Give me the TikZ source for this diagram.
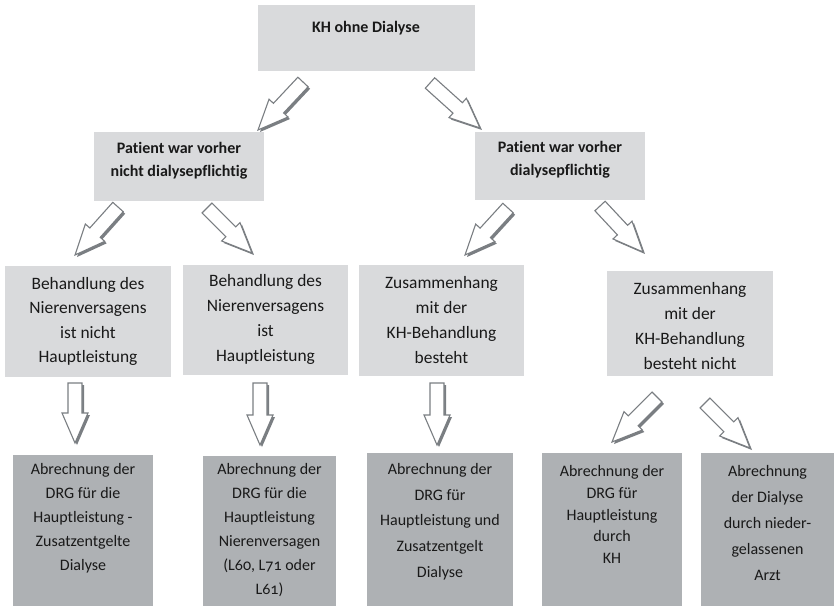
\documentclass[tikz,border=0pt]{standalone}
\usepackage{fontspec}
\setmainfont[Ligatures=NoCommon]{Carlito}
\newfontfamily\oldnum[Numbers=OldStyle,Ligatures=NoCommon]{Carlito}
\definecolor{lightbox}{RGB}{217,218,220}
\definecolor{darkbox}{RGB}{174,177,180}
\definecolor{arrowgray}{RGB}{122,126,130}
\definecolor{txt}{RGB}{25,25,25}
\tikzset{
  lbox/.style={fill=lightbox, draw=none, inner sep=0pt, anchor=north west},
  dbox/.style={fill=darkbox, draw=none, inner sep=0pt, anchor=north west},
  boldtxt/.style={align=center, text=txt, inner sep=0pt, font=\fontsize{16}{23}\selectfont\bfseries},
  midtxt/.style={align=center, text=txt, inner sep=0pt, font=\fontsize{17.4}{#1}\selectfont},
  lowtxt/.style={align=center, text=txt, inner sep=0pt, font=\fontsize{16}{#1}\selectfont\oldnum},
}
\newcommand\blockarrow[2]{%
  \path (#1); \pgfgetlastxy{\baAx}{\baAy}%
  \path (#2); \pgfgetlastxy{\baBx}{\baBy}%
  \pgfmathsetmacro\baAng{atan2((\baBy)-(\baAy),(\baBx)-(\baAx))}%
  \pgfmathsetmacro\baLen{veclen((\baBx)-(\baAx),(\baBy)-(\baAy))}%
  \pgfmathsetmacro\baNeck{\baLen-30}%
  \begin{scope}[xshift=2pt,yshift=-2pt,shift={(\baAx,\baAy)},rotate=\baAng]
    \fill[arrowgray] (0,-7) -- (\baNeck,-7) -- (\baNeck,-13) -- (\baLen,0) -- (\baNeck,13) -- (\baNeck,7) -- (0,7) -- cycle;
  \end{scope}
  \begin{scope}[shift={(\baAx,\baAy)},rotate=\baAng]
    \draw[arrowgray, fill=white, line width=1.1pt, line join=miter] (0,-7) -- (\baNeck,-7) -- (\baNeck,-13) -- (\baLen,0) -- (\baNeck,13) -- (\baNeck,7) -- (0,7) -- cycle;
  \end{scope}}
\begin{document}
\begin{tikzpicture}[x=1pt,y=-1pt]
\useasboundingbox (0,0) rectangle (834,606);
% level 1
\node[lbox, minimum width=217, minimum height=66] (T) at (258,5) {};
\node[boldtxt] (Tt) at (366,28) {KH ohne Dialyse};
% level 2
\node[lbox, minimum width=170, minimum height=69] (P1) at (94,132) {};
\node[boldtxt] (P1t) at (179,160.5) {Patient war vorher\\nicht dialysepflichtig};
\node[lbox, minimum width=170, minimum height=68] (P2) at (475,132) {};
\node[boldtxt] (P2t) at (560,160) {Patient war vorher\\dialysepflichtig};
% level 3
\node[lbox, minimum width=166, minimum height=111] (A) at (5,266) {};
\node[midtxt=24.3] (At) at (88,321.5) {Behandlung des\\Nierenversagens\\ist nicht\\Hauptleistung};
\node[lbox, minimum width=165, minimum height=110] (B) at (183,265) {};
\node[midtxt=25] (Bt) at (265.5,319.5) {Behandlung des\\Nierenversagens\\ist\\Hauptleistung};
\node[lbox, minimum width=165, minimum height=111] (C) at (359,265) {};
\node[midtxt=25] (Ct) at (441.5,320.5) {Zusammenhang\\mit der\\KH-Behandlung\\besteht};
\node[lbox, minimum width=166, minimum height=105] (D) at (607,271) {};
\node[midtxt=24.7] (Dt) at (690,326) {Zusammenhang\\mit der\\KH-Behandlung\\besteht nicht};
% level 4
\node[dbox, minimum width=140, minimum height=151] (E) at (13,455) {};
\node[lowtxt=24] (Et) at (83,518) {Abrechnung der\\DRG für die\\Hauptleistung -\\Zusatzentgelte\\Dialyse};
\node[dbox, minimum width=133, minimum height=150] (F) at (203,456) {};
\node[lowtxt=24] (Ft) at (269.5,530) {Abrechnung der\\DRG für die\\Hauptleistung\\Nierenversagen\\(L60, L71 oder\\L61)};
\node[dbox, minimum width=146, minimum height=153] (G) at (367,453) {};
\node[lowtxt=25.75] (Gt) at (440,521.5) {Abrechnung der\\DRG für\\Hauptleistung und\\Zusatzentgelt\\Dialyse};
\node[dbox, minimum width=140, minimum height=153] (H) at (542,453) {};
\node[lowtxt=21.75] (Ht) at (612,514.5) {Abrechnung der\\DRG für\\Hauptleistung\\durch\\KH};
\node[dbox, minimum width=133, minimum height=153] (I) at (701,453) {};
\node[lowtxt=26] (It) at (767.5,523) {Abrechnung\\der Dialyse\\durch nieder-\\gelassenen\\Arzt};
% arrow end points
\coordinate (a1s) at (303,82);  \coordinate (a1e) at (258,130);
\coordinate (a2s) at (430,83);  \coordinate (a2e) at (480,128);
\coordinate (a3s) at (118,207); \coordinate (a3e) at (75,255);
\coordinate (a4s) at (207,208); \coordinate (a4e) at (252,253);
\coordinate (a5s) at (508,208); \coordinate (a5e) at (465,255);
\coordinate (a6s) at (600,206); \coordinate (a6e) at (643,252);
\coordinate (a7s) at (75,383);  \coordinate (a7e) at (75,443);
\coordinate (a8s) at (260,383); \coordinate (a8e) at (260,445);
\coordinate (a9s) at (437,383); \coordinate (a9e) at (437,445);
\coordinate (a10s) at (657,397); \coordinate (a10e) at (612,442);
\coordinate (a11s) at (705,403); \coordinate (a11e) at (750,448);
\blockarrow{a1s}{a1e}
\blockarrow{a2s}{a2e}
\blockarrow{a3s}{a3e}
\blockarrow{a4s}{a4e}
\blockarrow{a5s}{a5e}
\blockarrow{a6s}{a6e}
\blockarrow{a7s}{a7e}
\blockarrow{a8s}{a8e}
\blockarrow{a9s}{a9e}
\blockarrow{a10s}{a10e}
\blockarrow{a11s}{a11e}
\end{tikzpicture}
\end{document}
